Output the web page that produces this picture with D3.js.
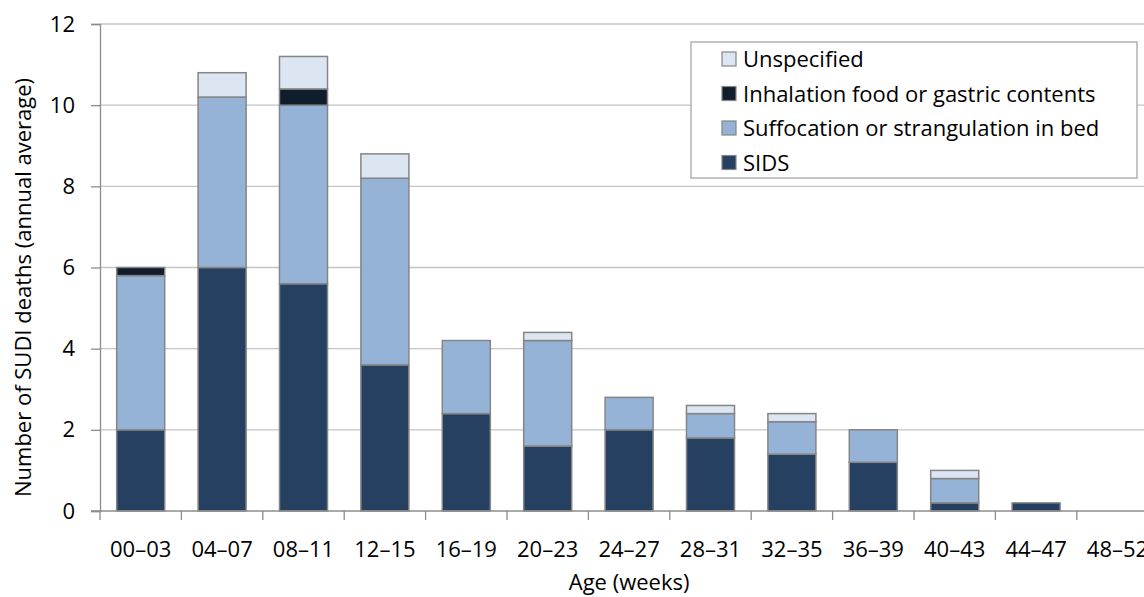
<!DOCTYPE html>
<html lang="en">
<head>
<meta charset="utf-8">
<title>SUDI deaths by age</title>
<script src="https://d3js.org/d3.v7.min.js"></script>
<style>
  body { margin: 0; background: #fff; }
  text { font-family: "Open Sans", "Noto Sans", sans-serif; fill: #000; }
</style>
</head>
<body>
<svg width="1144" height="597"></svg>
<script>
const ages = ["00\u201303","04\u201307","08\u201311","12\u201315","16\u201319","20\u201323","24\u201327","28\u201331","32\u201335","36\u201339","40\u201343","44\u201347","48\u201352"];
const sids        = [2.0, 6.0, 5.6, 3.6, 2.4, 1.6, 2.0, 1.8, 1.4, 1.2, 0.2, 0.2, 0];
const suffocation = [3.8, 4.2, 4.4, 4.6, 1.8, 2.6, 0.8, 0.6, 0.8, 0.8, 0.6, 0, 0];
const inhalation  = [0.2, 0, 0.4, 0, 0, 0, 0, 0, 0, 0, 0, 0, 0];
const unspecified = [0, 0.6, 0.8, 0.6, 0, 0.2, 0, 0.2, 0.2, 0, 0.2, 0, 0];
const yTicks = [0, 2, 4, 6, 8, 10, 12];

const seriesKeys = ["SIDS", "Suffocation or strangulation in bed", "Inhalation food or gastric contents", "Unspecified"];
const colors = ["#264061", "#95b3d7", "#101d2d", "#dce6f2"];

const table = ages.map((a, i) => ({
  age: a,
  "SIDS": sids[i],
  "Suffocation or strangulation in bed": suffocation[i],
  "Inhalation food or gastric contents": inhalation[i],
  "Unspecified": unspecified[i]
}));

const svg = d3.select("svg");
const mLeft = 100, mTop = 24, mBottom = 511;
const plotRight = mLeft + 81.4 * ages.length;
const fs = "22px";

const x = d3.scaleBand().domain(ages).range([mLeft, plotRight]).paddingInner(0.41).paddingOuter(0.205);
const y = d3.scaleLinear().domain([0, 12]).range([mBottom, mTop]);
const color = d3.scaleOrdinal(seriesKeys, colors);

// gridlines
svg.append("g")
  .selectAll("line")
  .data(yTicks.filter(d => d > 0))
  .join("line")
  .attr("x1", mLeft).attr("x2", 1144)
  .attr("y1", d => y(d)).attr("y2", d => y(d))
  .attr("stroke", "#c4c4c4").attr("stroke-width", 1.3);

// bars
const stacked = d3.stack().keys(seriesKeys)(table);
svg.append("g")
  .selectAll("g")
  .data(stacked)
  .join("g")
  .attr("fill", d => color(d.key))
  .selectAll("rect")
  .data(d => d.filter(p => p[1] - p[0] > 0))
  .join("rect")
  .attr("x", d => x(d.data.age))
  .attr("width", x.bandwidth())
  .attr("y", d => y(d[1]))
  .attr("height", d => y(d[0]) - y(d[1]))
  .attr("stroke", "#858585")
  .attr("stroke-width", 1.5);

// y axis
const yAxis = svg.append("g")
  .attr("transform", `translate(${mLeft},0)`)
  .call(d3.axisLeft(y).tickValues(yTicks).tickSize(9).tickPadding(16));
yAxis.select(".domain").attr("stroke", "#8c8c8c").attr("stroke-width", 1.3);
yAxis.selectAll(".tick line").attr("stroke", "#8c8c8c").attr("stroke-width", 1.3);
yAxis.selectAll("text").style("font-size", fs).attr("fill", "#000");

// x axis with ticks at category boundaries
const xAxisG = svg.append("g").attr("transform", `translate(0,${mBottom})`);
xAxisG.append("line")
  .attr("x1", mLeft - 9).attr("x2", 1144)
  .attr("stroke", "#8c8c8c").attr("stroke-width", 1.3);
const step = x.step();
xAxisG.selectAll("line.tk")
  .data(d3.range(ages.length + 1))
  .join("line")
  .attr("class", "tk")
  .attr("x1", i => mLeft + i * step).attr("x2", i => mLeft + i * step)
  .attr("y1", 0).attr("y2", 9)
  .attr("stroke", "#8c8c8c").attr("stroke-width", 1.3);
xAxisG.selectAll("text")
  .data(ages)
  .join("text")
  .attr("x", d => x(d) + x.bandwidth() / 2)
  .attr("y", 46)
  .attr("text-anchor", "middle")
  .style("font-size", fs)
  .text(d => d);

// axis titles
svg.append("text")
  .attr("x", (mLeft + plotRight) / 2)
  .attr("y", 590)
  .attr("text-anchor", "middle")
  .style("font-size", fs)
  .text("Age (weeks)");

svg.append("text")
  .attr("transform", `translate(31,${(mTop + mBottom) / 2 + 20}) rotate(-90)`)
  .attr("text-anchor", "middle")
  .style("font-size", fs)
  .text("Number of SUDI deaths (annual average)");

// legend
const legend = svg.append("g");
legend.append("rect")
  .attr("x", 691).attr("y", 42).attr("width", 446).attr("height", 136)
  .attr("fill", "#fff").attr("stroke", "#a6a6a6").attr("stroke-width", 1.3);
const legendOrder = seriesKeys.slice().reverse();
const items = legend.selectAll("g.item")
  .data(legendOrder)
  .join("g")
  .attr("class", "item")
  .attr("transform", (d, i) => `translate(722,${59 + i * 34.5})`);
items.append("rect")
  .attr("x", 0).attr("y", -7).attr("width", 14).attr("height", 14)
  .attr("fill", d => color(d)).attr("stroke", "#858585").attr("stroke-width", 1.2);
items.append("text")
  .attr("x", 21).attr("y", 8)
  .style("font-size", fs)
  .text(d => d);
</script>
</body>
</html>
